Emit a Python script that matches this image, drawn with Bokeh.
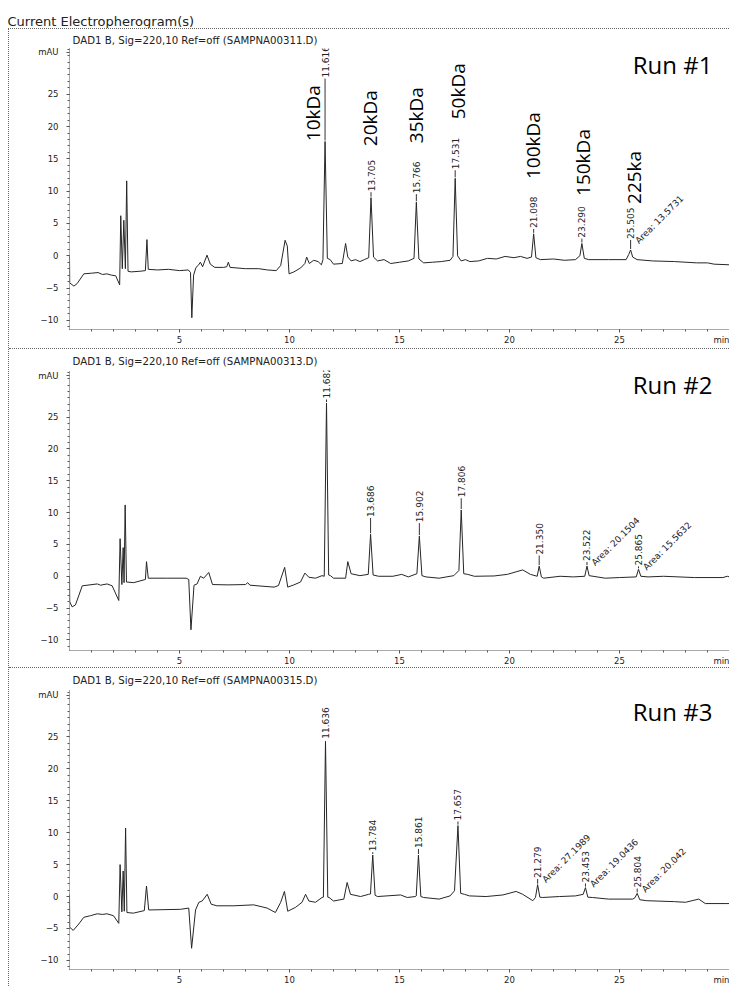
import math
from bokeh.plotting import figure
from bokeh.layouts import column
from bokeh.models import ColumnDataSource, FixedTicker, Label, Range1d, Title
from bokeh.core.properties import value
from bokeh.embed import file_html
from bokeh.resources import INLINE

# ---------------- data ----------------
TITLE = "Current Electropherogram(s)"
SUBTITLES = [
    "DAD1 B, Sig=220,10 Ref=off (SAMPNA00311.D)",
    "DAD1 B, Sig=220,10 Ref=off (SAMPNA00313.D)",
    "DAD1 B, Sig=220,10 Ref=off (SAMPNA00315.D)",
]
RUN_NAMES = ["Run #1", "Run #2", "Run #3"]

X_TICKS = [5, 10, 15, 20, 25, 30]
X_TICK_LABELS = {30: "min"}
Y_TICKS = [-10, -5, 0, 5, 10, 15, 20, 25, 31.5]
Y_TICK_LABELS = {31.5: "mAU"}

# (time [min], signal [mAU])
RUN1 = [
    (0.00, 0.0), (0.01, -4.2), (0.20, -4.7), (0.35, -4.3), (0.65, -2.8), (1.00, -2.7),
    (1.30, -2.6), (1.50, -2.9), (1.70, -2.8), (1.90, -3.0), (2.10, -3.1), (2.28, -4.5),
    (2.33, 6.2), (2.40, -2.0), (2.47, 5.5), (2.54, -2.0), (2.60, 11.6), (2.66, -2.4),
    (2.80, -2.5), (3.20, -2.4), (3.45, -2.3), (3.52, 2.5), (3.58, -2.1), (4.00, -2.2),
    (4.50, -2.1), (5.00, -2.3), (5.40, -2.2), (5.50, -2.6), (5.56, -9.6), (5.64, -3.0),
    (5.75, -1.8), (5.85, -1.5), (5.95, -1.0), (6.05, -1.7), (6.25, 0.1), (6.40, -1.3),
    (6.60, -1.8), (7.00, -1.8), (7.15, -1.7), (7.22, -1.0), (7.30, -1.8), (8.00, -2.0),
    (8.60, -2.0), (9.00, -2.2), (9.40, -2.3), (9.60, -1.5), (9.80, 2.4), (9.90, 1.5),
    (9.98, -2.8), (10.20, -2.5), (10.50, -1.9), (10.70, -1.2), (10.78, -0.2), (10.90, -1.2),
    (11.10, -0.7), (11.30, -0.9), (11.45, -1.4), (11.52, -0.6), (11.616, 17.7), (11.72, -0.4),
    (11.85, -0.6), (12.00, -1.3), (12.40, -1.2), (12.55, 1.9), (12.65, -0.2), (12.80, -0.8),
    (13.00, -0.6), (13.20, -0.9), (13.40, -0.6), (13.60, -0.3), (13.705, 9.0), (13.82, -0.2),
    (14.00, -0.8), (14.30, -0.6), (14.60, -1.2), (15.00, -1.0), (15.40, -0.8), (15.66, -0.4),
    (15.766, 8.3), (15.88, -0.5), (16.10, -1.1), (16.50, -1.0), (16.90, -0.9), (17.30, -0.7),
    (17.43, -0.1), (17.531, 12.0), (17.64, 0.0), (17.80, -0.8), (18.00, -0.6), (18.20, -0.9),
    (18.60, -0.8), (19.00, -0.4), (19.40, -0.5), (19.80, -0.1), (20.20, -0.3), (20.50, -0.1),
    (20.80, -0.4), (21.00, -0.2), (21.098, 3.4), (21.20, -0.3), (21.40, -0.6), (22.00, -0.5),
    (22.50, -0.7), (23.00, -0.6), (23.20, 0.0), (23.290, 1.9), (23.40, -0.4), (23.60, -0.6),
    (24.50, -0.6), (25.30, -0.6), (25.42, 0.2), (25.505, 0.9), (25.60, -0.2), (25.80, -0.6),
    (26.50, -0.8), (27.50, -0.9), (28.50, -1.1), (29.00, -1.1), (29.30, -1.3), (30.00, -1.4),
]
RUN2 = [
    (0.00, 0.0), (0.01, -4.0), (0.12, -4.8), (0.27, -4.5), (0.58, -1.5), (1.26, -1.2),
    (1.41, -1.4), (1.71, -1.2), (1.94, -1.5), (2.24, -3.8), (2.30, 5.9), (2.38, -1.3),
    (2.44, 4.5), (2.48, -1.0), (2.53, 11.2), (2.59, -0.9), (2.92, -1.0), (3.45, -0.5),
    (3.50, 2.3), (3.58, -0.3), (4.40, -0.3), (5.30, -0.3), (5.42, -0.5), (5.52, -8.4),
    (5.66, -1.4), (5.80, -1.2), (5.95, 0.0), (6.10, -0.3), (6.33, 0.6), (6.50, -1.3),
    (7.20, -1.35), (8.00, -1.3), (8.10, -1.0), (8.20, -1.4), (9.30, -1.7), (9.50, -1.45),
    (9.78, 1.4), (9.92, -1.7), (10.20, -1.35), (10.50, -0.9), (10.70, 0.5), (10.88, -0.15),
    (11.18, -0.3), (11.48, 0.1), (11.58, 0.0), (11.682, 27.2), (11.78, 0.2), (11.86, 0.1),
    (12.00, -0.3), (12.55, -0.3), (12.65, 2.3), (12.80, 0.4), (13.20, 0.1), (13.58, 0.3),
    (13.686, 6.6), (13.80, 0.2), (14.05, 0.0), (14.70, 0.0), (15.10, 0.3), (15.40, -0.1),
    (15.79, 0.4), (15.902, 6.3), (16.02, 0.1), (16.20, -0.1), (16.80, -0.3), (17.47, 0.1),
    (17.70, 0.9), (17.806, 10.4), (17.92, 0.4), (18.10, 0.3), (18.40, 0.0), (19.30, 0.05),
    (19.90, 0.3), (20.60, 1.0), (20.95, 0.3), (21.26, 0.0), (21.350, 1.6), (21.45, -0.1),
    (21.55, -0.3), (22.30, 0.0), (22.90, -0.1), (23.42, 0.0), (23.522, 1.6), (23.62, 0.1),
    (23.80, 0.0), (24.35, -0.3), (25.00, -0.2), (25.76, -0.1), (25.865, 1.1), (25.97, 0.0),
    (26.30, -0.1), (27.00, 0.0), (28.40, -0.2), (29.70, -0.2), (29.90, 0.0), (30.00, -0.1),
]
RUN3 = [
    (0.00, 0.3), (0.01, -4.8), (0.17, -5.3), (0.42, -4.3), (0.65, -3.25), (0.95, -3.0),
    (1.26, -2.7), (1.50, -2.8), (1.70, -2.7), (2.00, -3.0), (2.24, -4.2), (2.30, 5.0),
    (2.38, -2.4), (2.44, 4.0), (2.49, -2.3), (2.55, 10.7), (2.61, -2.5), (2.90, -2.6),
    (3.40, -2.2), (3.50, 1.65), (3.60, -2.1), (5.05, -2.0), (5.42, -1.8), (5.55, -8.1),
    (5.73, -2.1), (5.88, -0.9), (6.03, -0.7), (6.26, 0.35), (6.44, -1.2), (6.70, -1.45),
    (7.47, -1.45), (8.37, -1.3), (8.98, -1.8), (9.36, -2.5), (9.60, -0.9), (9.77, 0.8),
    (9.92, -2.3), (10.27, -1.7), (10.57, -0.9), (10.73, 0.35), (10.88, -0.7), (11.18, -0.9),
    (11.48, -0.15), (11.54, -0.1), (11.636, 24.3), (11.74, -0.1), (11.80, -0.15), (12.00, -0.7),
    (12.47, -0.4), (12.62, 2.2), (12.77, 0.35), (13.23, 0.0), (13.60, 0.35), (13.68, 0.4),
    (13.784, 6.5), (13.89, 0.2), (14.00, 0.0), (15.05, 0.25), (15.35, -0.15), (15.73, 0.0),
    (15.76, 0.1), (15.861, 6.5), (15.97, 0.0), (16.10, -0.15), (16.80, -0.4), (17.30, 0.1),
    (17.50, 0.9), (17.657, 11.1), (17.78, 0.5), (17.95, 0.35), (18.18, 0.1), (18.94, 0.0),
    (19.70, 0.25), (20.30, 0.8), (20.60, 0.35), (21.06, -0.65), (21.18, -0.15), (21.279, 1.85),
    (21.38, -0.1), (21.50, -0.15), (22.27, 0.0), (23.00, 0.1), (23.35, 0.35), (23.453, 1.4),
    (23.56, -0.1), (23.77, -0.15), (24.50, -0.4), (25.60, -0.4), (25.70, -0.2), (25.804, 0.5),
    (25.92, -0.5), (26.23, -0.65), (27.50, -0.8), (28.00, -0.9), (28.30, -0.65), (28.60, -0.4),
    (28.90, -1.1), (29.80, -1.1), (30.00, -1.1),
]

# labelled retention times (min)
RUN1_RT = [11.616, 13.705, 15.766, 17.531, 21.098, 23.290, 25.505]
RUN2_RT = [11.682, 13.686, 15.902, 17.806, 21.350, 23.522, 25.865]
RUN3_RT = [11.636, 13.784, 15.861, 17.657, 21.279, 23.453, 25.804]

# integrated areas for the late peaks
RUN1_AREAS = {25.505: "13.5731"}
RUN2_AREAS = {23.522: "20.1504", 25.865: "15.5632"}
RUN3_AREAS = {21.279: "27.1989", 23.453: "19.0436", 25.804: "20.042"}

# molecular-weight marker annotations on run 1
MW_NAMES = ["10kDa", "20kDa", "35kDa", "50kDa", "100kDa", "150kDa", "225ka"]

# ---------------- layout / annotation placement ----------------
MW_POS_X = [11.09, 13.68, 15.73, 17.68, 21.09, 23.32, 25.64]
MW_POS_Y = [17.75, 16.98, 17.44, 21.14, 11.88, 9.26, 8.02]
RT_LABEL_Y = [
    [27.6, 10.0, 9.7, 13.4, 4.3, 2.8, 2.6],
    [27.9, 9.3, 8.5, 12.4, 3.4, 2.4, 1.7],
    [24.7, 7.1, 7.6, 11.9, 2.9, 2.2, 1.4],
]
PANEL_H = [319, 319, 319]
BORDER_TOP = [18, 20, 21]
BORDER_BOTTOM = [19, 16, 15]
SUB_STANDOFF = [6, 8, 9]
Y_LIMITS = [(-11.42, 32.10), (-11.65, 32.30), (-11.42, 32.25)]
RUN_LABEL_POS = [(25.6, 29.6), (25.6, 30.1), (25.6, 28.9)]

FIG_W = 720
AX = "#555555"
TXT = "#222222"
SMALL_FONT = "DejaVu Sans"

TRACES = [RUN1, RUN2, RUN3]
RTS = [RUN1_RT, RUN2_RT, RUN3_RT]
AREAS = [RUN1_AREAS, RUN2_AREAS, RUN3_AREAS]


def build_panel(k):
    trace = TRACES[k]
    lo, hi = Y_LIMITS[k]
    p = figure(width=FIG_W, height=PANEL_H[k],
               x_range=Range1d(0, 30), y_range=Range1d(lo, hi),
               output_backend="svg", toolbar_location=None,
               min_border_left=60, min_border_right=0,
               min_border_top=BORDER_TOP[k], min_border_bottom=BORDER_BOTTOM[k],
               background_fill_color="white", border_fill_color="white")
    p.xgrid.visible = False
    p.ygrid.visible = False
    p.outline_line_color = None

    # sub-title directly above the plot area
    p.add_layout(Title(text=SUBTITLES[k], align="left", offset=3, standoff=SUB_STANDOFF[k],
                       text_font=SMALL_FONT, text_font_size="10.2px",
                       text_font_style="normal", text_color=TXT), "above")

    # axes
    for ax in (p.xaxis[0], p.yaxis[0]):
        ax.axis_line_color = AX
        ax.axis_line_dash = "1 1"
        ax.axis_line_width = 1
        ax.major_tick_line_color = AX
        ax.minor_tick_line_color = AX
        ax.major_tick_in = 0
        ax.minor_tick_in = 0
        ax.major_tick_out = 3
        ax.minor_tick_out = 2
        ax.major_label_text_font = SMALL_FONT
        ax.major_label_text_font_size = "8.5px"
        ax.major_label_text_color = TXT
    p.xaxis.ticker = FixedTicker(ticks=X_TICKS, minor_ticks=list(range(1, 30)))
    p.xaxis.major_label_overrides = X_TICK_LABELS
    p.xaxis.major_label_standoff = 2
    p.yaxis.ticker = FixedTicker(ticks=Y_TICKS, minor_ticks=list(range(-11, 33)))
    p.yaxis.major_label_overrides = Y_TICK_LABELS
    p.yaxis.major_label_standoff = 8

    # trace
    src = ColumnDataSource(dict(t=[a for a, _ in trace], y=[b for _, b in trace]))
    p.line("t", "y", source=src, line_color="#262626", line_width=1)

    # retention-time labels with leaders
    lookup = dict(trace)
    rts = RTS[k]
    apex = [lookup[r] for r in rts]
    lab_y = RT_LABEL_Y[k]
    lead_x, lead_y0, lead_y1 = [], [], []
    for r, a, b in zip(rts, apex, lab_y):
        if b - a > 0.5:
            lead_x.append(r)
            lead_y0.append(a + 0.15)
            lead_y1.append(b - 0.15)
    p.segment(x0=lead_x, y0=lead_y0, x1=lead_x, y1=lead_y1, line_color="#333333", line_width=1)
    rt_src = ColumnDataSource(dict(x=rts, y=lab_y, text=[f"{r:.3f}" for r in rts]))
    p.text(x="x", y="y", text="text", source=rt_src, angle=math.pi / 2,
           text_font=value(SMALL_FONT), text_font_size="9px", text_color=TXT,
           text_align="left", text_baseline="middle")

    # area labels (diagonal)
    ar = AREAS[k]
    ar_x = [r + 0.28 for r in ar]
    ar_y = [lab_y[rts.index(r)] - 0.5 for r in ar]
    ar_src = ColumnDataSource(dict(x=ar_x, y=ar_y, text=[f"Area: {v}" for v in ar.values()]))
    p.text(x="x", y="y", text="text", source=ar_src, angle=math.pi / 4,
           text_font=value(SMALL_FONT), text_font_size="9px", text_color=TXT,
           text_align="left", text_baseline="middle")

    rx, ry = RUN_LABEL_POS[k]
    p.add_layout(Label(x=rx, y=ry, text=RUN_NAMES[k], text_font="Open Sans",
                       text_font_size="24px", text_color="black",
                       text_align="left", text_baseline="middle"))

    if k == 0:
        mw_src = ColumnDataSource(dict(x=MW_POS_X, y=MW_POS_Y, text=MW_NAMES))
        p.text(x="x", y="y", text="text", source=mw_src, angle=math.pi / 2,
               text_font=value("Open Sans"), text_font_size="19px", text_color="black",
               text_align="left", text_baseline="middle")
    return p


# title strip
top = figure(width=729, height=28, x_range=Range1d(0, 729), y_range=Range1d(0, 28),
             output_backend="svg", toolbar_location=None, min_border=0,
             x_axis_location=None, y_axis_location=None)
top.xgrid.visible = False
top.ygrid.visible = False
top.outline_line_color = None
top.add_layout(Label(x=7, y=7, text=TITLE, text_font=SMALL_FONT, text_font_size="13px",
                     text_color=TXT, text_align="left", text_baseline="alphabetic"))

panels = [build_panel(k) for k in range(3)]
dotted = "1px dotted #666666"
panels[1].styles = {"border-top": dotted}
panels[2].styles = {"border-top": dotted}
frame = column(*panels, margin=(0, 0, 0, 8), spacing=0,
               styles={"border-left": dotted, "border-top": dotted})
layout = column(top, frame, spacing=0)

open("out.html", "w").write(file_html(layout, INLINE))
